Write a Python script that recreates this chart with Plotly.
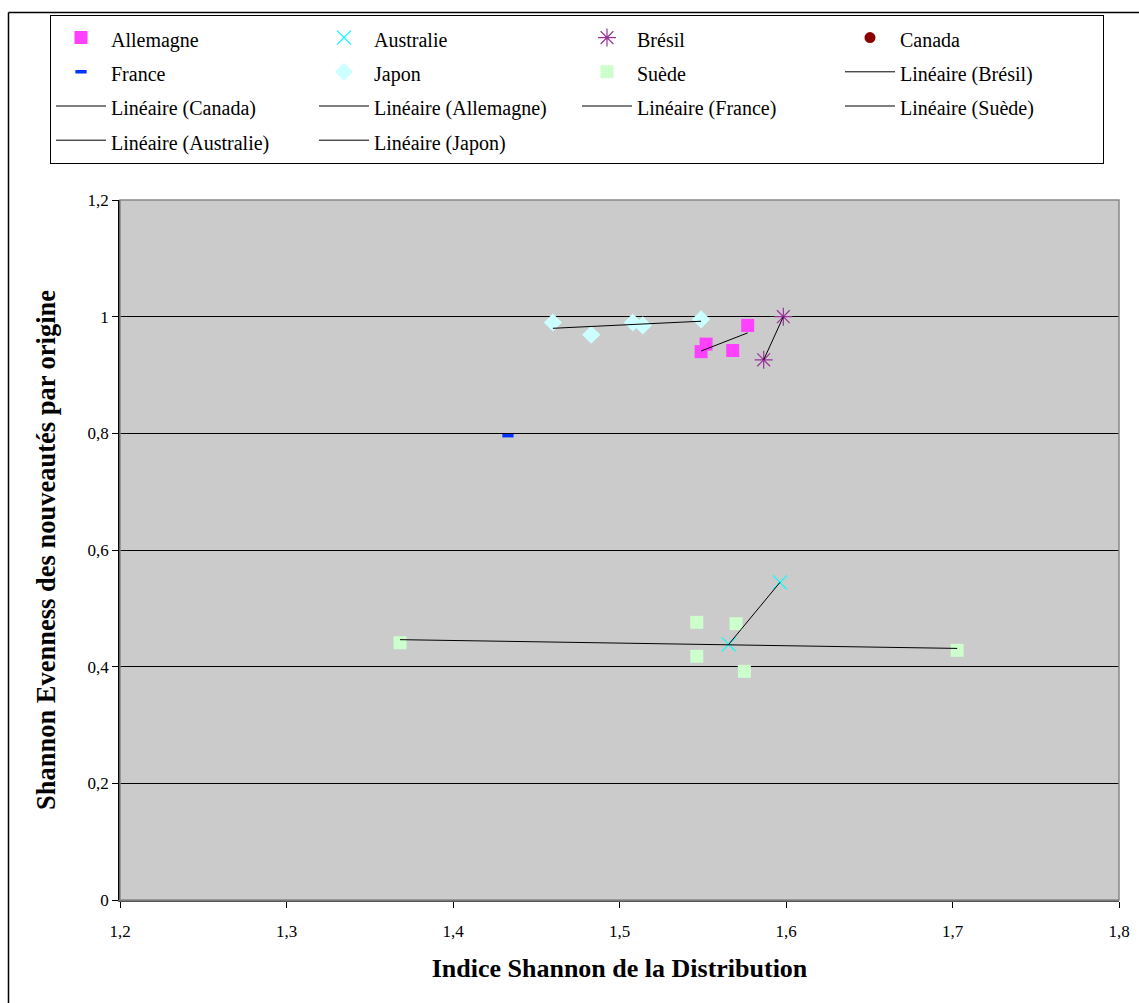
import numpy as np
import plotly.graph_objects as go

# ---------------- data ----------------
allemagne_x = [1.577, 1.552, 1.549, 1.568]
allemagne_y = [0.985, 0.953, 0.940, 0.942]
australie_x = [1.5964, 1.5656]
australie_y = [0.5446, 0.4383]
bresil_x = [1.5984, 1.5866]
bresil_y = [1.000, 0.926]
canada_x = []
canada_y = []
france_x = [1.433]
france_y = [0.796]
japon_x = [1.460, 1.483, 1.508, 1.514, 1.549]
japon_y = [0.990, 0.969, 0.990, 0.985, 0.9955]
suede_x = [1.3682, 1.5464, 1.570, 1.5464, 1.575, 1.7028]
suede_y = [0.441, 0.476, 0.4737, 0.4178, 0.392, 0.428]

x_title = "Indice Shannon de la Distribution"
y_title = "Shannon Evenness des nouveautés par origine"

# ---------------- layout geometry ----------------
W, H = 1139, 1003
L, R, T, B = 120, 20, 200, 103
PW, PH = W - L - R, H - T - B


def px2paper_x(px):
    return (px - L) / PW


def px2paper_y(py):
    return 1 - (py - T) / PH


FONT = "Liberation Serif, Times New Roman, serif"


def leg(name):
    # smaller visible text inside a taller legend row
    return f'<span style="font-size:20px">{name}</span>'


fig = go.Figure()

series = [
    ("Allemagne", allemagne_x, allemagne_y, dict(symbol="square", size=13, color="#FF40FF")),
    ("Australie", australie_x, australie_y, dict(symbol="x-thin-open", size=14, color="#00FFFF",
                                                 line=dict(width=1.2, color="#00FFFF"))),
    ("Brésil", bresil_x, bresil_y, dict(symbol="asterisk-open", size=15, color="#993399",
                                       line=dict(width=1.2, color="#993399"))),
    ("Canada", canada_x, canada_y, dict(symbol="circle", size=11, color="#8B0000")),
    ("France", france_x, france_y, dict(symbol="line-ew-open", size=8, color="#0033FF",
                                       line=dict(width=3.5, color="#0033FF"))),
    ("Japon", japon_x, japon_y, dict(symbol="diamond", size=14, color="#CCFFFF")),
    ("Suède", suede_x, suede_y, dict(symbol="square", size=13, color="#CCFFCC")),
]

for name, xs, ys, mk in series:
    fig.add_trace(go.Scatter(
        x=xs if len(xs) else [None], y=ys if len(ys) else [None],
        mode="markers", name=leg(name), marker=mk, showlegend=True,
        hovertemplate=f"{name}<br>%{{x}}, %{{y}}<extra></extra>",
    ))

data_map = {n: (xs, ys) for n, xs, ys, _ in series}
trend_order = ["Brésil", "Canada", "Allemagne", "France", "Suède", "Australie", "Japon"]
for name in trend_order:
    xs, ys = data_map[name]
    if len(xs) >= 2:
        a, b = np.polyfit(xs, ys, 1)
        tx = [min(xs), max(xs)]
        ty = [a * v + b for v in tx]
    else:
        tx, ty = [None], [None]
    fig.add_trace(go.Scatter(
        x=tx, y=ty, mode="lines", name=leg(f"Linéaire ({name})"),
        line=dict(color="black", width=1), showlegend=True,
        hoverinfo="skip",
    ))

# plot-area border (gray) and outer frame (left + top)
fig.add_shape(type="rect", xref="x domain", yref="y domain", x0=0, x1=1, y0=0, y1=1,
              line=dict(color="#888888", width=1.5), layer="above")
fig.add_shape(type="line", xref="paper", yref="paper",
              x0=px2paper_x(8.5), x1=px2paper_x(8.5), y0=px2paper_y(1003), y1=px2paper_y(12.5),
              line=dict(color="black", width=1.5), layer="below")
fig.add_shape(type="line", xref="paper", yref="paper",
              x0=px2paper_x(8.5), x1=px2paper_x(1139), y0=px2paper_y(12.5), y1=px2paper_y(12.5),
              line=dict(color="black", width=1.5), layer="below")

fig.update_layout(
    width=W, height=H,
    margin=dict(l=L, r=R, t=T, b=B, autoexpand=False),
    paper_bgcolor="white",
    plot_bgcolor="#CBCBCB",
    separators=", ",
    font=dict(family=FONT, size=17, color="black"),
    showlegend=True,
    legend=dict(
        orientation="h",
        x=px2paper_x(50), xanchor="left",
        y=px2paper_y(14.5), yanchor="top",
        bordercolor="black", borderwidth=1, bgcolor="white",
        font=dict(family=FONT, size=24, color="black"),
        itemwidth=50,
        entrywidth=198, entrywidthmode="pixels",
        traceorder="normal",
    ),
    xaxis=dict(
        range=[1.2, 1.8], dtick=0.1, tick0=1.2,
        showgrid=False, zeroline=False,
        showline=True, linecolor="#555555", linewidth=1.5,
        ticks="outside", ticklen=6, tickcolor="black",
        ticklabelstandoff=9,
        tickfont=dict(family=FONT, size=17),
        title=dict(text=f"<b>{x_title}</b>", font=dict(family=FONT, size=26), standoff=19),
    ),
    yaxis=dict(
        range=[0, 1.2], dtick=0.2, tick0=0,
        showgrid=True, gridcolor="black", gridwidth=1,
        zeroline=False,
        showline=True, linecolor="black", linewidth=1.5,
        ticks="outside", ticklen=6, tickcolor="black",
        tickfont=dict(family=FONT, size=17),
        title=dict(text=f"<b>{y_title}</b>", font=dict(family=FONT, size=26.5), standoff=24),
    ),
)

fig.write_html("out.html")
